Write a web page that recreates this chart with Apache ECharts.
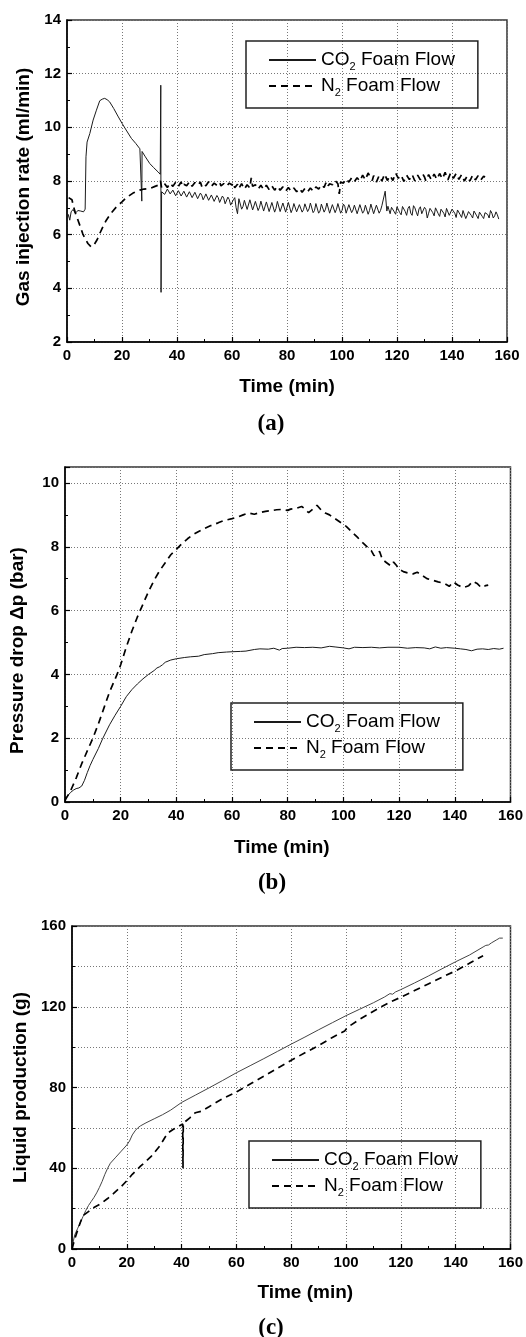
<!DOCTYPE html>
<html lang="en">
<head>
<meta charset="UTF-8">
<title>CO2 / N2 foam flow</title>
<script src="https://cdn.jsdelivr.net/npm/echarts@6/dist/echarts.min.js"></script>
<style>
html,body{margin:0;padding:0;background:#fff}
#main{width:526px;height:1337px}
</style>
</head>
<body>
<div id="main"></div>
<script>
// (a) gas injection rate, ml/min  -> [time min, value]
var rateCO2 = [[0,6.55],[0.5,6.75],[1,6.54],[1.5,6.85],[2.2,6.94],[3,6.8],[4,6.9],[5,6.88],[6,6.85],[6.6,6.95],
  [6.9,8.9],[7.3,9.45],[8.3,9.77],[9.5,10.27],[10.7,10.64],[11.9,10.99],[12.8,11.05],[13.7,11.08],[14.6,11.03],[15.5,10.95],
  [17,10.7],[18.5,10.42],[20,10.15],[21.5,9.9],[23.4,9.59],[25,9.4],[26.5,9.2],[27.1,9.15],[27.2,7.25],[27.3,9.1],
  [28.5,8.9],[30.1,8.65],[31.5,8.5],[33.1,8.34],[33.9,8.25],[34.1,11.57],[34.2,3.85],[34.4,7.6],
  [35,7.62],[35.5,7.5],[36,7.55],[36.5,7.7],[37,7.68],[37.5,7.52],[38,7.58],[38.5,7.66],[39,7.61],[39.5,7.45],
  [40,7.52],[40.5,7.64],[41,7.6],[41.5,7.44],[42,7.49],[42.5,7.62],[43,7.57],[43.5,7.4],[44,7.46],[44.5,7.6],
  [45,7.55],[45.5,7.38],[46,7.43],[46.5,7.58],[47,7.52],[47.5,7.34],[48,7.38],[48.5,7.55],[49,7.47],[49.5,7.3],
  [50,7.4],[50.5,7.52],[51,7.45],[51.5,7.28],[52,7.33],[52.5,7.48],[53,7.42],[53.5,7.24],[54,7.3],[54.5,7.46],
  [55,7.38],[55.5,7.2],[56,7.25],[56.5,7.44],[57,7.36],[57.5,7.15],[58,7.2],[58.5,7.4],[59,7.31],[59.5,7.1],
  [60,7.12],[60.5,7.3],[61,7.38],[61.5,7.0],[62,6.78],[62.5,7.34],[63,7.3],[63.5,6.95],[64,7.05],[64.5,7.28],
  [65,7.22],[65.5,6.94],[66,7.0],[66.5,7.3],[67,7.26],[67.5,6.92],[68,6.98],[68.5,7.24],[69,7.2],[69.5,6.9],
  [70,7.02],[70.5,7.25],[71,7.18],[71.5,6.88],[72,6.95],[72.5,7.22],[73,7.2],[73.5,6.86],[74,6.92],[74.5,7.2],
  [75,7.16],[75.5,6.84],[76,6.98],[76.5,7.24],[77,7.22],[77.5,6.86],[78,6.9],[78.5,7.18],[79,7.12],[79.5,6.84],
  [80,6.88],[80.5,7.2],[81,7.15],[81.5,6.82],[82,6.95],[82.5,7.16],[83,7.1],[83.5,6.85],[84,6.9],[84.5,7.12],
  [85,7.18],[85.5,6.84],[86,6.93],[86.5,7.15],[87,7.08],[87.5,6.86],[88,6.96],[88.5,7.18],[89,7.14],[89.5,6.82],
  [90,6.9],[90.5,7.16],[91,7.12],[91.5,6.8],[92,6.88],[92.5,7.14],[93,7.1],[93.5,6.84],[94,6.95],[94.5,7.18],
  [95,7.15],[95.5,6.8],[96,6.86],[96.5,7.12],[97,7.08],[97.5,6.82],[98,6.95],[98.5,7.16],[99,7.12],[99.5,6.8],
  [100,6.9],[100.5,7.14],[101,7.06],[101.5,6.8],[102,6.84],[102.5,7.12],[103,7.14],[103.5,6.82],[104,6.92],[104.5,7.1],
  [105,7.08],[105.5,6.78],[106,6.85],[106.5,7.12],[107,7.1],[107.5,6.8],[108,6.88],[108.5,7.1],[109,7.04],[109.5,6.76],
  [110,6.9],[110.5,7.14],[111,7.12],[111.5,6.78],[112,6.82],[112.5,7.1],[113,7.06],[113.5,6.8],[114,6.9],[114.5,7.08],
  [115,7.1],[115.7,7.62],[116.3,6.88],[116.7,7.06],[117,6.95],[117.5,6.78],[118,7.02],[118.5,7.08],[119,6.85],[119.5,6.76],
  [120,7.04],[120.5,7.08],[121,6.82],[121.5,6.74],[122,7.05],[122.5,7.0],[123,6.86],[123.5,6.72],[124,6.98],[124.5,7.06],
  [125,6.8],[125.5,6.72],[126,7.08],[126.5,7.0],[127,6.84],[127.5,6.7],[128,6.96],[128.5,7.04],[129,6.78],[129.5,6.72],
  [130,7.02],[130.5,6.94],[131,6.62],[131.5,6.8],[132,6.98],[132.5,7.02],[133,6.82],[133.5,6.7],[134,7.0],[134.5,6.96],
  [135,6.78],[135.5,6.68],[136,6.95],[136.5,7.0],[137,6.8],[137.5,6.66],[138,6.98],[138.5,6.92],[139,6.72],[139.5,6.66],
  [140,6.95],[140.5,6.9],[141,6.8],[141.5,6.64],[142,6.92],[142.5,6.96],[143,6.74],[143.5,6.64],[144,6.9],[144.5,6.84],
  [145,6.6],[145.5,6.72],[146,6.86],[146.5,6.9],[147,6.72],[147.5,6.62],[148,6.88],[148.5,6.82],[149,6.7],[149.5,6.6],
  [150,6.84],[150.5,6.86],[151,6.68],[151.5,6.6],[152,6.82],[152.5,6.84],[153,6.75],[153.5,6.62],[154,6.9],[154.5,6.8],
  [155,6.62],[155.5,6.7],[156,6.85],[156.5,6.74],[157,6.58]];
var rateN2 = [[0.6,7.38],[1.2,7.41],[1.8,7.3],[2.5,7.0],[3.2,6.75],[4,6.54],[5,6.25],[5.7,6.04],[6.6,5.85],[7.6,5.67],
  [8.8,5.54],[10,5.65],[11,5.82],[11.9,6.04],[13,6.28],[14.3,6.54],[16,6.8],[18,7.04],[20,7.22],[21.6,7.38],
  [24,7.55],[26.5,7.66],[28,7.7],[30.1,7.72],[32,7.8],[33.1,7.84],[34,8.0],[34.4,7.75],
  [35,7.82],[35.5,7.9],[36,7.88],[36.5,7.76],[37,7.78],[37.5,7.92],[38,7.9],[38.5,7.8],[39,7.83],[39.5,7.95],
  [40,7.92],[40.5,7.8],[41,7.85],[41.5,7.96],[42,7.8],[42.5,7.88],[43,7.93],[43.5,7.82],[44,7.86],[44.5,7.97],
  [45,7.9],[45.5,7.8],[46,7.82],[46.5,7.94],[47,7.95],[47.5,7.84],[48,7.87],[48.5,7.96],[49,7.8],[49.5,7.9],
  [50,7.93],[50.5,7.82],[51,7.85],[51.5,7.97],[52,7.9],[52.5,7.8],[53,7.78],[53.5,7.92],[54,7.98],[54.5,7.84],
  [55,7.88],[55.5,7.95],[56,7.82],[56.5,7.76],[57,7.9],[57.5,7.95],[58,7.8],[58.5,7.74],[59,7.92],[59.5,7.86],
  [60,7.85],[60.5,7.94],[61,7.75],[61.5,7.8],[62,7.88],[62.5,7.72],[63,7.78],[63.5,7.9],[64,7.85],[64.5,7.7],
  [65,7.72],[65.5,7.86],[66,7.82],[66.5,7.74],[67,8.12],[67.5,7.8],[68,7.75],[68.5,7.86],[69,7.85],[69.5,7.7],
  [70,7.7],[70.5,7.84],[71,7.8],[71.5,7.68],[72,7.74],[72.5,7.84],[73,7.83],[73.5,7.68],[74,7.7],[74.5,7.82],
  [75,7.78],[75.5,7.66],[76,7.68],[76.5,7.8],[77,7.8],[77.5,7.66],[78,7.7],[78.5,7.78],[79,7.76],[79.5,7.62],
  [80,7.66],[80.5,7.76],[81,7.78],[81.5,7.62],[82,7.68],[82.5,7.74],[83,7.74],[83.5,7.6],[84,7.62],[84.5,7.72],
  [85,7.72],[85.5,7.58],[86,7.64],[86.5,7.72],[87,7.7],[87.5,7.6],[88,7.62],[88.5,7.74],[89,7.72],[89.5,7.62],
  [90,7.68],[90.5,7.78],[91,7.8],[91.5,7.7],[92,7.74],[92.5,7.86],[93,7.85],[93.5,7.76],[94,7.9],[94.5,7.98],
  [95,7.82],[95.5,7.9],[96,7.95],[96.5,7.86],[97,7.88],[97.5,8.02],[98,8.0],[98.5,7.9],[99,7.52],[99.5,7.96],
  [100,8.02],[100.5,7.92],[101,7.95],[101.5,8.08],[102,8.05],[102.5,7.96],[103,8.0],[103.5,8.12],[104,8.08],[104.5,7.98],
  [105,8.02],[105.5,8.12],[106,8.15],[106.5,8.0],[107,8.05],[107.5,8.22],[108,8.2],[108.5,8.04],[109,8.1],[109.5,8.3],
  [110,8.28],[110.5,8.1],[111,8.02],[111.5,8.2],[112,8.12],[112.5,7.96],[113,7.98],[113.5,8.2],[114,8.15],[114.5,8.0],
  [115,8.05],[115.5,8.26],[116,8.22],[116.5,8.02],[117,8.0],[117.5,8.2],[118,8.18],[118.5,8.02],[119,8.08],[119.5,8.3],
  [120,8.3],[120.5,8.1],[121,8.05],[121.5,8.22],[122,8.2],[122.5,7.98],[123,8.0],[123.5,8.22],[124,8.25],[124.5,8.05],
  [125,8.1],[125.5,8.24],[126,8.18],[126.5,8.0],[127,8.02],[127.5,8.22],[128,8.2],[128.5,8.04],[129,8.08],[129.5,8.24],
  [130,8.15],[130.5,8.0],[131,8.05],[131.5,8.24],[132,8.2],[132.5,8.04],[133,8.1],[133.5,8.26],[134,8.22],[134.5,8.06],
  [135,8.12],[135.5,8.28],[136,8.25],[136.5,8.08],[137,8.15],[137.5,8.32],[138,8.3],[138.5,8.04],[139,8.0],[139.5,8.3],
  [140,8.35],[140.5,8.1],[141,8.15],[141.5,8.28],[142,8.25],[142.5,8.06],[143,8.1],[143.5,8.24],[144,8.2],[144.5,8.0],
  [145,7.95],[145.5,8.18],[146,8.15],[146.5,8.0],[147,8.05],[147.5,8.22],[148,8.2],[148.5,8.04],[149,8.1],[149.5,8.2],
  [150,8.15],[150.5,8.04],[151,8.08],[151.5,8.18],[152,8.14]];

// (b) pressure drop, bar
var dpCO2 = [[0,0.08],[1,0.2],[2,0.3],[3,0.37],[4,0.42],[5,0.44],[6,0.5],[7,0.68],[8,0.92],[9,1.14],
  [10,1.33],[12,1.68],[13.6,2.0],[16,2.42],[18,2.72],[20,3.0],[22,3.3],[24,3.52],[26,3.7],[28,3.86],
  [30,4.0],[32,4.12],[33,4.2],[34,4.24],[35,4.3],[36,4.38],[38,4.45],[40,4.49],[43,4.53],[45,4.55],
  [48,4.57],[50,4.62],[53,4.65],[55,4.68],[58,4.7],[60,4.71],[63,4.72],[65,4.73],[68,4.78],[70,4.8],
  [73,4.79],[75,4.82],[77,4.76],[78,4.81],[80,4.82],[83,4.85],[86,4.84],[89,4.85],[92,4.83],[95,4.88],
  [97,4.86],[100,4.83],[102,4.8],[104,4.85],[107,4.84],[110,4.85],[113,4.83],[116,4.85],[120,4.85],[123,4.82],
  [126,4.84],[129,4.83],[131,4.8],[133,4.86],[135,4.82],[137,4.84],[140,4.82],[142,4.8],[144,4.78],[146,4.74],
  [148,4.79],[150,4.8],[152,4.78],[154,4.81],[156,4.79],[157.5,4.82]];
var dpN2 = [[0,0.05],[2,0.35],[4,0.75],[6,1.2],[8,1.6],[10,2.0],[12,2.45],[14,2.95],[16,3.45],[18.7,4.0],
  [20,4.3],[22,4.85],[24,5.35],[26,5.8],[28,6.2],[30,6.6],[32,6.95],[34,7.25],[36,7.5],[38,7.75],
  [40,7.92],[42,8.1],[44,8.25],[46,8.38],[48,8.48],[50,8.57],[52,8.65],[55,8.75],[57,8.82],[60,8.88],
  [62,8.93],[64,9.0],[66,9.06],[68,9.02],[70,9.07],[72,9.11],[74,9.13],[76,9.16],[78,9.17],[80,9.14],
  [81,9.18],[83,9.2],[85,9.26],[86,9.2],[87.5,9.07],[89,9.18],[90.5,9.3],[92,9.15],[93.5,9.06],[95,9.0],
  [97,8.88],[99,8.76],[101,8.64],[103,8.47],[105,8.3],[107,8.12],[108.5,8.0],[110,7.88],[111,7.72],[112.2,7.82],
  [113,7.85],[114,7.6],[115.5,7.5],[117,7.4],[118,7.52],[119,7.42],[120,7.3],[121.5,7.22],[123,7.18],[125,7.15],
  [126.5,7.2],[128,7.12],[130,7.0],[132,6.95],[134,6.9],[136,6.86],[138,6.76],[139.5,6.9],[141,6.8],[143,6.72],
  [145,6.78],[146.5,6.92],[148,6.85],[149.5,6.72],[151,6.78],[152,6.8]];

// (c) liquid production, g
var liqCO2 = [[0,0],[0.5,4],[1,7],[2,10],[3,13],[4,16],[5,19],[6,21.5],[7,23.5],[8,25.5],
  [9,27.8],[10,30.5],[11,33.5],[12,37],[13,40],[14,42.5],[16,45.5],[18,48.5],[20,51.5],[21,53.5],
  [22,56.5],[23,58.5],[24,60],[25,61],[27,62.5],[30,64.5],[33,66.5],[36,68.8],[40,72.6],[45,76.2],
  [50,79.8],[55,83.5],[60,87.3],[65,90.8],[70,94.3],[75,97.9],[80,101.5],[85,105],[90,108.6],[95,112.1],
  [100,115.6],[105,118.8],[110,122],[114,124.8],[116,126.5],[117,126.2],[118,127.3],[120,128.5],[125,131.8],[130,135.2],
  [135,138.8],[140,142.3],[145,145.6],[150,149.6],[151,150.4],[152,150.6],[153,151.6],[155,153.2],[156,154],[157.2,154]];
var liqN2 = [[0,0],[1,5],[2,9],[3,13],[4,16.5],[5,17.5],[6,18.5],[8,20.5],[10.5,22.4],[13,25],
  [15,27.3],[18,31],[20.2,34.1],[22,37],[25,41],[28.8,45.7],[32,51],[34.9,57.4],[37,59.3],[40.4,61.9],
  [40.5,40],[40.6,62.3],[43,65],[45,67.5],[47.1,68.2],[50,70.5],[55,74.5],[60,77.8],[65,81.7],[70,85.6],
  [75,89.6],[80,93.5],[85,97.2],[90,100.8],[95,104.8],[99.5,108],[100.5,109.8],[105,113.8],[110,117.8],[116,122.3],
  [120.5,125],[125,128],[130,131.3],[135,134.6],[140,137.8],[145,141.5],[150,145.3]];

var SANS = '"Liberation Sans", Arial, sans-serif';
var chart = echarts.init(document.getElementById('main'));

var gridLine = { show: true, lineStyle: { color: '#777', type: [1, 2], width: 1 } };

function xAxis(idx, gap, pad) {
    return {
        type: 'value', gridIndex: idx, min: 0, max: 160, interval: 20,
        name: 'Time (min)', nameLocation: 'middle', nameGap: gap,
        nameTextStyle: { fontFamily: SANS, fontSize: 19, fontWeight: 'bold', color: '#000', padding: pad },
        axisLine: { onZero: false, lineStyle: { color: '#000', width: 1.5 } },
        axisTick: { inside: true, length: 5, lineStyle: { color: '#000', width: 1.2 } },
        minorTick: { show: true, splitNumber: 2, length: 3, lineStyle: { color: '#000', width: 1 } },
        axisLabel: { fontFamily: SANS, fontSize: 15, fontWeight: 'bold', color: '#000', margin: 6 },
        splitLine: gridLine
    };
}
function yAxis(idx, name, min, max, step, gap, pad) {
    return {
        type: 'value', gridIndex: idx, min: min, max: max, interval: step,
        name: name, nameLocation: 'middle', nameGap: gap,
        nameTextStyle: { fontFamily: SANS, fontSize: 19, fontWeight: 'bold', color: '#000', padding: pad },
        axisLine: { onZero: false, lineStyle: { color: '#000', width: 1.5 } },
        axisTick: { inside: true, length: 5, lineStyle: { color: '#000', width: 1.2 } },
        minorTick: { show: true, splitNumber: 2, length: 3, lineStyle: { color: '#000', width: 1 } },
        axisLabel: { fontFamily: SANS, fontSize: 15, fontWeight: 'bold', color: '#000', margin: 6, showMaxLabel: max % step === 0 },
        splitLine: gridLine
    };
}
function legend(left, top) {
    return {
        data: ['CO2', 'N2'], orient: 'vertical', left: left, top: top,
        padding: [7, 23, 10, 22], itemGap: 2, itemWidth: 47, itemHeight: 14,
        borderColor: '#222', borderWidth: 1.5, selectedMode: false,
        itemStyle: { color: 'rgba(0,0,0,0)', borderWidth: 0, opacity: 0 },
        formatter: function (n) { return n === 'CO2' ? 'CO{s|2} Foam Flow' : 'N{s|2} Foam Flow'; },
        textStyle: {
            fontFamily: SANS, fontSize: 19, color: '#000', lineHeight: 24,
            rich: { s: { fontFamily: SANS, fontSize: 11, lineHeight: 11, verticalAlign: 'bottom', color: '#000' } }
        }
    };
}
function solid(idx, data, color) {
    return { name: 'CO2', type: 'line', xAxisIndex: idx, yAxisIndex: idx, data: data, color: color,
        symbol: 'none', silent: true, lineStyle: { color: color, width: 1 } };
}
function dashed(idx, data) {
    return { name: 'N2', type: 'line', xAxisIndex: idx, yAxisIndex: idx, data: data, color: '#000',
        symbol: 'none', silent: true, lineStyle: { color: '#000', width: 1.7, type: [7, 5] } };
}
function caption(txt, x, y) {
    return { type: 'text', x: x, y: y,
        style: { text: txt, font: 'bold 23px "Liberation Serif", serif', fill: '#000',
            align: 'center', verticalAlign: 'middle', textAlign: 'center', textVerticalAlign: 'middle' } };
}

var yC = yAxis(2, 'Liquid production (g)', 0, 160, 40, 42, [0, 0, 0, 0]);
yC.minorSplitLine = gridLine;

chart.setOption({
    animation: false,
    grid: [
        { left: 67, top: 20, width: 440, height: 322, show: true, borderColor: '#333', borderWidth: 1.5 },
        { left: 57, top: 467, width: 456, height: 335, show: true, borderColor: '#333', borderWidth: 1.5 },
        { left: 72, top: 926, width: 439, height: 323, show: true, borderColor: '#333', borderWidth: 1.5 }
    ],
    xAxis: [xAxis(0, 35, [0, 0, 0, 0]), xAxis(1, 36, [0, 12, 0, 0]), xAxis(2, 34, [0, 0, 0, 28])],
    yAxis: [
        yAxis(0, 'Gas injection rate (ml/min)', 2, 14, 2, 32, [0, 12, 0, 0]),
        yAxis(1, 'Pressure drop \u0394p (bar)', 0, 10.5, 2, 38, [0, 32, 0, 0]),
        yC
    ],
    legend: [legend(246, 41), legend(231, 703), legend(249, 1141)],
    series: [
        solid(0, rateCO2, '#1a1a1a'), dashed(0, rateN2),
        solid(1, dpCO2, '#1a1a1a'), dashed(1, dpN2),
        solid(2, liqCO2, '#444'), dashed(2, liqN2)
    ],
    graphic: [caption('(a)', 271, 424), caption('(b)', 272, 883), caption('(c)', 271, 1328)]
});
</script>
</body>
</html>
